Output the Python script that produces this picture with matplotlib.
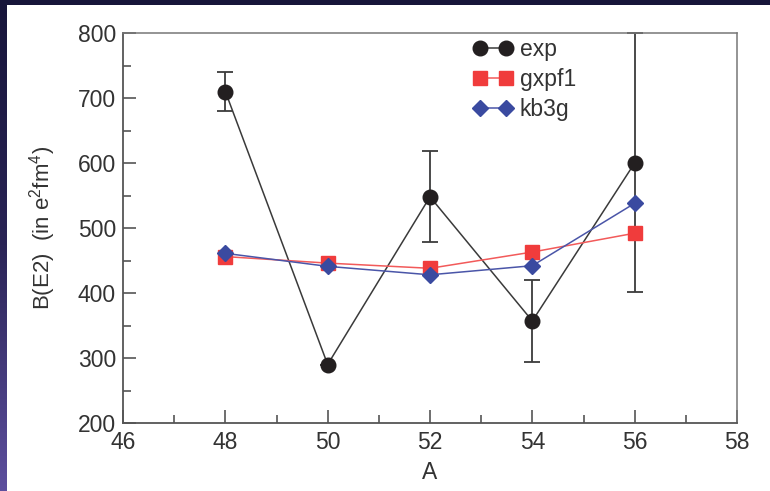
import numpy as np
import matplotlib
matplotlib.use("Agg")
import matplotlib.pyplot as plt
from matplotlib.patches import Rectangle
from matplotlib.ticker import MultipleLocator
from matplotlib.colors import LinearSegmentedColormap

# Mass numbers and B(E2) values
A = [48, 50, 52, 54, 56]
exp_vals = [710, 290, 548, 357, 600]
exp_err_lo = [30, 0, 70, 63, 198]
exp_err_hi = [30, 0, 70, 63, 200]
gxpf1_vals = [456, 446, 438, 463, 492]
kb3g_vals = [461, 441, 428, 442, 538]

x_ticks = [46, 48, 50, 52, 54, 56, 58]
y_ticks = [200, 300, 400, 500, 600, 700, 800]

plt.rcParams['font.family'] = ['Liberation Sans', 'DejaVu Sans']

fig = plt.figure(figsize=(7.70, 4.91), dpi=100)
fig.patch.set_facecolor('#17153a')

# slide background: dark band with a purple gradient on the left edge
grad_ax = fig.add_axes([0, 0, 7 / 770, 1], zorder=-2)
grad = np.linspace(0, 1, 256).reshape(-1, 1)
cmap = LinearSegmentedColormap.from_list('slide', ['#17153a', '#2a2456', '#5d4f9e'])
grad_ax.imshow(grad, aspect='auto', cmap=cmap, origin='upper', extent=[0, 1, 0, 1])
grad_ax.axis('off')

fig.patches.append(Rectangle((7 / 770, 0), 1 - 7 / 770, 1 - 5 / 491,
                             transform=fig.transFigure, facecolor='white',
                             edgecolor='none', zorder=-1))

ax = fig.add_axes([123 / 770, 68 / 491, 614 / 770, 390 / 491], zorder=2)
ax.set_facecolor('white')

ax.errorbar(A, exp_vals, yerr=[exp_err_lo, exp_err_hi], fmt='none',
            ecolor='#3c3c3c', elinewidth=1.3, capsize=6, capthick=1.3, zorder=2,
            clip_on=False)
ax.plot(A, exp_vals, '-o', color='#3a3a3a', lw=1.1, marker='o', ms=10.5,
        mfc='#231f20', mec='#231f20', label='exp', zorder=3)
ax.plot(A, gxpf1_vals, '-s', color='#f25a5a', lw=1.1, ms=9.5,
        mfc='#f03c3c', mec='#f03c3c', label='gxpf1', zorder=4)
ax.plot(A, kb3g_vals, '-D', color='#4a55a8', lw=1.1, ms=8,
        mfc='#3a4aa0', mec='#3a4aa0', label='kb3g', zorder=5)

ax.set_xlim(46, 58)
ax.set_ylim(200, 800)
ax.set_xticks(x_ticks)
ax.set_yticks(y_ticks)
ax.xaxis.set_minor_locator(MultipleLocator(1))
ax.yaxis.set_minor_locator(MultipleLocator(50))

for side in ['left', 'bottom']:
    ax.spines[side].set_color('#555555')
    ax.spines[side].set_linewidth(1.3)
for side in ['top', 'right']:
    ax.spines[side].set_color('#777777')
    ax.spines[side].set_linewidth(1.1)

ax.tick_params(which='major', direction='in', length=9.5, width=1.2,
               color='#555555', labelsize=16.5, labelcolor='#333333',
               top=False, right=False)
ax.tick_params(axis='x', which='major', pad=6)
ax.tick_params(axis='y', which='major', pad=5)
ax.tick_params(which='minor', direction='in', length=5.5, width=1.2,
               color='#555555', top=False, right=False)

ax.set_xlabel('A', fontsize=16.5, color='#333333', labelpad=5)
ax.set_ylabel(r'B(E2)  (in e$^{\mathregular{2}}$fm$^{\mathregular{4}}$)',
              fontsize=16, color='#333333', labelpad=14)

leg = ax.legend(loc='upper left', bbox_to_anchor=(0.555, 1.01), frameon=False,
                fontsize=16.5, numpoints=2, handlelength=1.75, handletextpad=0.3,
                labelspacing=0.3, borderaxespad=0)
for t in leg.get_texts():
    t.set_color('#333333')

fig.savefig('out.png', dpi=100, facecolor=fig.get_facecolor())
